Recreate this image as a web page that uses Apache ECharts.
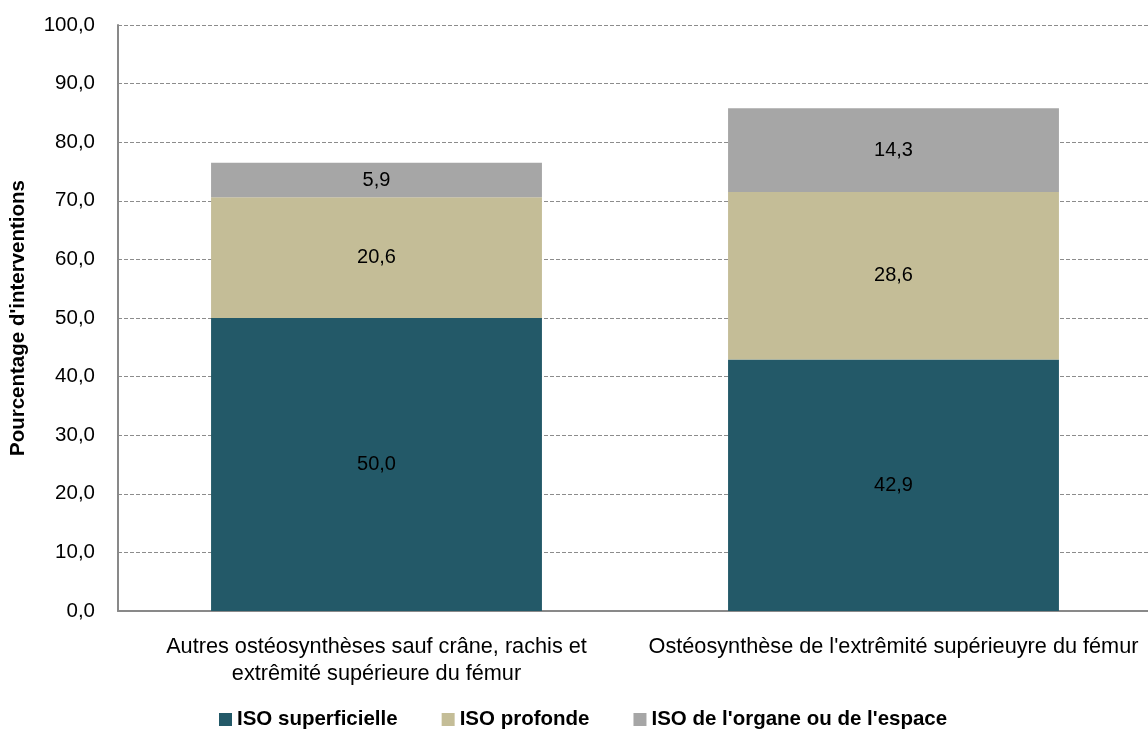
<!DOCTYPE html>
<html>
<head>
<meta charset="utf-8">
<script src="https://cdn.jsdelivr.net/npm/echarts@6/dist/echarts.min.js"></script>
<style>
  html, body { margin: 0; padding: 0; background: #fff; }
  #main { width: 1148px; height: 735px; }
</style>
</head>
<body>
<div id="main"></div>
<script>
var categories = [
  "Autres ostéosynthèses sauf crâne, rachis et\nextrêmité supérieure du fémur",
  "Ostéosynthèse de l'extrêmité supérieuyre du fémur"
];
var seriesNames = ["ISO superficielle", "ISO profonde", "ISO de l'organe ou de l'espace"];
var superficielle = [50.0, 42.9];
var profonde = [20.6, 28.6];
var organe = [5.9, 14.3];
var colors = ["#235968", "#C4BD97", "#A6A6A6"];

var font = "'Liberation Sans', Arial, sans-serif";

function fmt(v) {
  return v.toFixed(1).replace(".", ",");
}

var chart = echarts.init(document.getElementById("main"));

function makeSeries(name, data, color) {
  return {
    name: name,
    type: "bar",
    stack: "total",
    barWidth: "64%",
    data: data,
    itemStyle: { color: color },
    label: {
      show: true,
      position: "inside",
      color: "#000",
      fontFamily: font,
      fontSize: 20,
      formatter: function (p) { return fmt(p.value); }
    }
  };
}

var option = {
  animation: false,
  textStyle: { fontFamily: font },
  grid: {
    left: 118, right: -4, top: 25, bottom: 124,
    containLabel: false,
    outerBoundsMode: "none"
  },
  legend: {
    bottom: 0,
    left: 214,
    itemWidth: 13,
    itemHeight: 13,
    itemGap: 44,
    icon: "rect",
    textStyle: { fontFamily: font, fontSize: 20.5, fontWeight: "bold", color: "#000" },
    data: seriesNames
  },
  xAxis: {
    type: "category",
    data: categories,
    axisLine: { lineStyle: { color: "#898989", width: 2 } },
    axisTick: { show: false },
    axisLabel: {
      color: "#000",
      fontFamily: font,
      fontSize: 21.7,
      lineHeight: 27,
      margin: 23,
      interval: 0
    }
  },
  yAxis: {
    type: "value",
    min: 0,
    max: 100,
    interval: 10,
    name: "Pourcentage d'interventions",
    nameLocation: "middle",
    nameGap: 89,
    nameTextStyle: { fontFamily: font, fontSize: 20.5, fontWeight: "bold", color: "#000" },
    axisLine: { show: true, lineStyle: { color: "#898989", width: 2 } },
    axisTick: { show: false },
    axisLabel: {
      color: "#000",
      fontFamily: font,
      fontSize: 20.5,
      margin: 23,
      formatter: function (v) { return fmt(v); }
    },
    splitLine: { lineStyle: { color: "#8c8c8c", type: [4, 2], width: 1 } }
  },
  series: [
    makeSeries(seriesNames[0], superficielle, colors[0]),
    makeSeries(seriesNames[1], profonde, colors[1]),
    makeSeries(seriesNames[2], organe, colors[2])
  ]
};

chart.setOption(option);
</script>
</body>
</html>
